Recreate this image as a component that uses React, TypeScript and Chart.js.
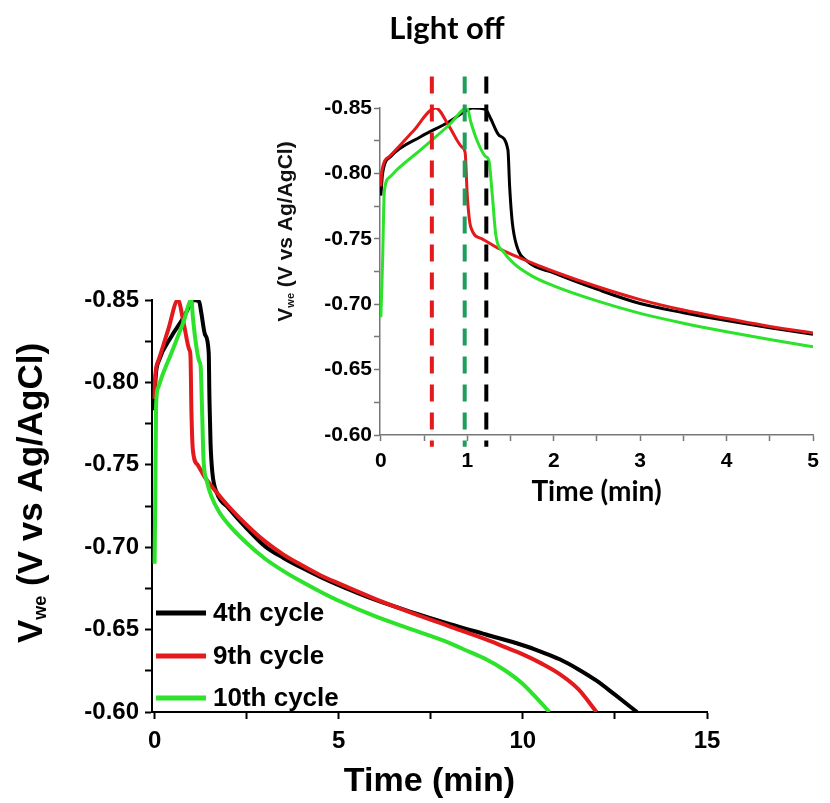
import React, { useEffect, useRef } from "react";
import { Chart, registerables } from "chart.js";

Chart.register(...registerables);

// Elapsed time (min) and working-electrode potential (V vs Ag/AgCl) for each cycle
const time4th = [0, 0.02, 0.115, 0.46, 0.79, 1.0, 1.06, 1.21, 1.27, 1.37, 1.47, 1.49, 1.52, 1.57, 1.69, 2.0, 2.5, 3.0, 3.5, 4.0, 4.5, 5.0, 6.0, 7.0, 8.0, 9.0, 10.0, 10.5, 11.0, 11.5, 12.0, 12.5, 13.1];
const volt4th = [-0.783, -0.8, -0.813, -0.828, -0.8395, -0.8485, -0.85, -0.849, -0.842, -0.829, -0.818, -0.79, -0.763, -0.745, -0.733, -0.724, -0.7115, -0.7005, -0.6935, -0.6875, -0.682, -0.677, -0.668, -0.6605, -0.6535, -0.647, -0.6405, -0.6365, -0.632, -0.626, -0.619, -0.6105, -0.6];

const time9th = [0, 0.01, 0.1, 0.37, 0.635, 0.79, 0.94, 0.975, 1.0, 1.04, 1.17, 1.35, 1.62, 2.0, 2.5, 3.0, 3.5, 4.0, 4.5, 5.0, 6.0, 7.0, 8.0, 9.0, 9.5, 10.0, 10.5, 11.0, 11.5, 12.0];
const volt9th = [-0.79, -0.801, -0.813, -0.832, -0.85, -0.836, -0.82, -0.816, -0.783, -0.759, -0.75, -0.743, -0.735, -0.725, -0.7135, -0.7035, -0.6955, -0.689, -0.683, -0.678, -0.6685, -0.66, -0.652, -0.644, -0.6395, -0.635, -0.6295, -0.623, -0.614, -0.6];

const time10th = [0, 0.02, 0.04, 0.1, 0.19, 0.46, 0.79, 1.0, 1.04, 1.12, 1.21, 1.25, 1.29, 1.33, 1.42, 1.54, 1.75, 2.0, 2.5, 3.0, 3.5, 4.0, 4.5, 5.0, 6.0, 7.0, 8.0, 8.5, 9.0, 9.5, 10.0, 10.35, 10.72];
const volt10th = [-0.69, -0.733, -0.786, -0.797, -0.803, -0.818, -0.837, -0.85, -0.8395, -0.824, -0.813, -0.81, -0.783, -0.753, -0.74, -0.731, -0.7215, -0.714, -0.7025, -0.693, -0.6855, -0.679, -0.673, -0.6675, -0.658, -0.65, -0.642, -0.637, -0.632, -0.6255, -0.617, -0.609, -0.6];

const cycleLabels = ["4th cycle", "9th cycle", "10th cycle"];
const cycleColors = ["#000000", "#e3191c", "#2de22a"];

// Moment the light was switched off in each cycle (min)
const lightOffTimes = [1.22, 0.59, 0.97];
const lightOffColors = ["#000000", "#e3191c", "#1f9d5b"];

// Axis ticks: labelled values and the unlabelled minor ticks between them
const mainTimeLabels = [0, 5, 10, 15];
const mainTimeMinor = [2.5, 7.5, 12.5];
const insetTimeLabels = [0, 1, 2, 3, 4, 5];
const insetTimeMinor = [0.5, 1.5, 2.5, 3.5, 4.5];
const potentialLabels = [-0.85, -0.8, -0.75, -0.7, -0.65, -0.6];
const potentialMinor = [-0.825, -0.775, -0.725, -0.675, -0.625];

const ARIAL = '"Liberation Sans", Arial, Helvetica, sans-serif';
const CALIBRI = 'Lato, "Open Sans", sans-serif';

Chart.defaults.font.family = ARIAL;

const seriesTimes = [time4th, time9th, time10th];
const seriesVolts = [volt4th, volt9th, volt10th];

function cycleDatasets(width: number) {
  return cycleLabels.map((label, i) => ({
    label,
    data: seriesTimes[i].map((x, k) => ({ x, y: seriesVolts[i][k] })),
    borderColor: cycleColors[i],
    backgroundColor: cycleColors[i],
    borderWidth: width,
    pointRadius: 0,
    fill: false,
    cubicInterpolationMode: "monotone" as const,
    order: 3 - i,
  }));
}

function setTicks(labels: number[], minor: number[]) {
  return (scale: any) => {
    scale.ticks = [...labels, ...minor].sort((a, b) => a - b).map((value) => ({ value }));
  };
}

function labelIf(labels: number[], fmt: (v: number) => string) {
  return (value: number | string) => {
    const v = Number(value);
    return labels.some((l) => Math.abs(l - v) < 1e-6) ? fmt(v) : "";
  };
}

// Rotated "V_we (V vs Ag/AgCl)" with a subscript, centred on (x, y); x is the baseline
function drawPotentialTitle(ctx: CanvasRenderingContext2D, x: number, y: number, size: number, color: string) {
  const mainFont = `bold ${size}px ${ARIAL}`;
  const subFont = `bold ${Math.round(size * 0.5)}px ${ARIAL}`;
  const rest = " (V vs Ag/AgCl)";
  ctx.save();
  ctx.translate(x, y);
  ctx.rotate(-Math.PI / 2);
  ctx.fillStyle = color;
  ctx.textBaseline = "alphabetic";
  ctx.textAlign = "left";
  ctx.font = mainFont;
  const wV = ctx.measureText("V").width;
  const wRest = ctx.measureText(rest).width;
  ctx.font = subFont;
  const wSub = ctx.measureText("we").width;
  let cx = -(wV + wSub + wRest) / 2;
  ctx.font = mainFont;
  ctx.fillText("V", cx, 0);
  cx += wV;
  ctx.font = subFont;
  ctx.fillText("we", cx, size * 0.1);
  cx += wSub;
  ctx.font = mainFont;
  ctx.fillText(rest, cx, 0);
  ctx.restore();
}

const mainDecor = {
  id: "mainDecor",
  afterDraw(chart: any) {
    const { ctx, chartArea } = chart;
    drawPotentialTitle(ctx, chartArea.left - 110, (chartArea.top + chartArea.bottom) / 2 - 13, 35, "#000");
    // legend in the lower-left corner of the plot
    const rowOffsets = [99, 56, 14];
    ctx.save();
    ctx.font = `bold 26px ${ARIAL}`;
    ctx.textBaseline = "middle";
    ctx.textAlign = "left";
    cycleLabels.forEach((label, i) => {
      const y = chartArea.bottom - rowOffsets[i];
      ctx.strokeStyle = cycleColors[i];
      ctx.lineWidth = 5;
      ctx.beginPath();
      ctx.moveTo(chartArea.left + 4, y);
      ctx.lineTo(chartArea.left + 54, y);
      ctx.stroke();
      ctx.fillStyle = "#000";
      ctx.fillText(label, chartArea.left + 61, y + 1);
    });
    ctx.restore();
  },
};

const insetDecor = {
  id: "insetDecor",
  afterDraw(chart: any) {
    const { ctx, chartArea } = chart;
    drawPotentialTitle(ctx, chartArea.left - 88, (chartArea.top + chartArea.bottom) / 2 - 40, 21, "#111");
    ctx.save();
    ctx.font = `bold 31px ${CALIBRI}`;
    ctx.fillStyle = "#000";
    ctx.textAlign = "center";
    ctx.textBaseline = "middle";
    ctx.fillText("Light off", chartArea.left + 67, 29);
    ctx.restore();
  },
};

// Vertical extent of the light-off markers (slightly beyond the plot frame)
const markerTop = -0.874;
const markerBottom = -0.591;

export default function App() {
  const mainRef = useRef<HTMLCanvasElement>(null);
  const insetRef = useRef<HTMLCanvasElement>(null);

  useEffect(() => {
    const main = new Chart(mainRef.current as HTMLCanvasElement, {
      type: "line",
      data: { datasets: cycleDatasets(4) as any },
      options: {
        animation: false,
        responsive: false,
        maintainAspectRatio: false,
        layout: { padding: { left: 0, top: 300, right: 123, bottom: 0 } },
        plugins: { legend: { display: false }, tooltip: { enabled: false } },
        scales: {
          x: {
            type: "linear",
            min: -0.07,
            max: 15,
            afterBuildTicks: setTicks(mainTimeLabels, mainTimeMinor),
            afterFit: (s: any) => {
              s.height = 91;
            },
            grid: { display: true, drawOnChartArea: false, drawTicks: true, tickLength: 7, tickColor: "#000", tickWidth: 2 },
            border: { display: true, color: "#000", width: 2 },
            ticks: {
              autoSkip: false,
              maxRotation: 0,
              padding: 8,
              color: "#000",
              font: { size: 24, weight: "bold", family: ARIAL },
              callback: labelIf(mainTimeLabels, (v) => String(v)),
            },
            title: {
              display: true,
              text: "Time (min)",
              color: "#000",
              font: { size: 34, weight: "bold", family: ARIAL },
              padding: { top: 0, bottom: 1 },
            },
          },
          y: {
            type: "linear",
            min: -0.85,
            max: -0.6,
            reverse: true,
            afterBuildTicks: setTicks(potentialLabels, potentialMinor),
            afterFit: (s: any) => {
              s.width = 152;
            },
            grid: { display: true, drawOnChartArea: false, drawTicks: true, tickLength: 7, tickColor: "#000", tickWidth: 2 },
            border: { display: true, color: "#000", width: 2 },
            ticks: {
              autoSkip: false,
              padding: 6,
              color: "#000",
              font: { size: 24, weight: "bold", family: ARIAL },
              callback: labelIf(potentialLabels, (v) => v.toFixed(2)),
            },
          },
        },
      },
      plugins: [mainDecor],
    });

    const markers = lightOffTimes.map((t, i) => ({
      label: `light off, ${cycleLabels[i]}`,
      data: [
        { x: t, y: markerTop },
        { x: t, y: markerBottom },
      ],
      borderColor: lightOffColors[i],
      borderWidth: 4,
      borderDash: [17, 11],
      borderCapStyle: "butt" as const,
      pointRadius: 0,
      fill: false,
      clip: false as any,
      order: 0,
    }));

    const inset = new Chart(insetRef.current as HTMLCanvasElement, {
      type: "line",
      data: { datasets: [...markers, ...cycleDatasets(3)] as any },
      options: {
        animation: false,
        responsive: false,
        maintainAspectRatio: false,
        layout: { padding: { left: 0, top: 108, right: 17, bottom: 0 } },
        plugins: { legend: { display: false }, tooltip: { enabled: false } },
        scales: {
          x: {
            type: "linear",
            min: -0.01,
            max: 5,
            afterBuildTicks: setTicks(insetTimeLabels, insetTimeMinor),
            afterFit: (s: any) => {
              s.height = 85;
            },
            grid: { display: true, drawOnChartArea: false, drawTicks: true, tickLength: 6, tickColor: "#777", tickWidth: 1.5 },
            border: { display: true, color: "#777", width: 1.5 },
            ticks: {
              autoSkip: false,
              maxRotation: 0,
              padding: 8,
              color: "#000",
              font: { size: 21, weight: "bold", family: ARIAL },
              callback: labelIf(insetTimeLabels, (v) => String(v)),
            },
            title: {
              display: true,
              text: "Time (min)",
              color: "#000",
              font: { size: 28, weight: "bold", family: CALIBRI },
              padding: { top: 0, bottom: 11 },
            },
          },
          y: {
            type: "linear",
            min: -0.85,
            max: -0.6,
            reverse: true,
            afterBuildTicks: setTicks(potentialLabels, potentialMinor),
            afterFit: (s: any) => {
              s.width = 140;
            },
            grid: { display: true, drawOnChartArea: false, drawTicks: true, tickLength: 6, tickColor: "#777", tickWidth: 1.5 },
            border: { display: true, color: "#777", width: 1.5 },
            ticks: {
              autoSkip: false,
              padding: 2,
              color: "#000",
              font: { size: 21, weight: "bold", family: ARIAL },
              callback: labelIf(potentialLabels, (v) => v.toFixed(2)),
            },
          },
        },
      },
      plugins: [insetDecor],
    });

    return () => {
      main.destroy();
      inset.destroy();
    };
  }, []);

  return (
    <div style={{ position: "absolute", left: 0, top: 0, width: 830, height: 803, background: "#fff", overflow: "hidden" }}>
      <canvas ref={mainRef} width={830} height={803} style={{ position: "absolute", left: 0, top: 0 }} />
      <canvas ref={insetRef} width={590} height={520} style={{ position: "absolute", left: 240, top: 0 }} />
    </div>
  );
}
